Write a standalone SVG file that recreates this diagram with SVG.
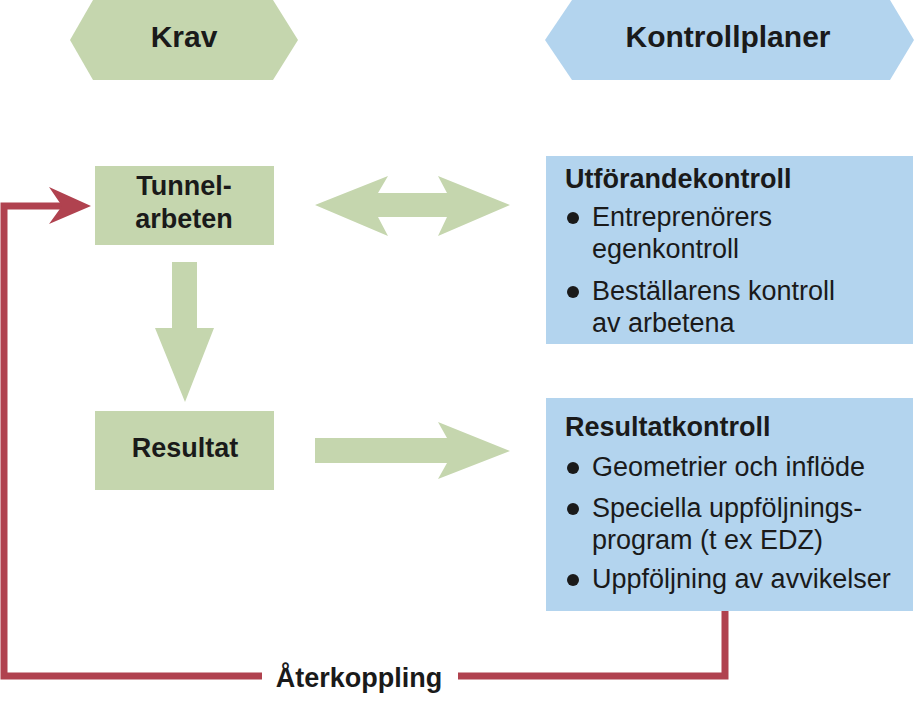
<svg xmlns="http://www.w3.org/2000/svg" width="914" height="702" viewBox="0 0 914 702">
<style>
.g{fill:#c5d6ae}
.b{fill:#b3d4ee}
.t{font-family:"Liberation Sans",Arial,sans-serif;fill:#1a1a1a}
.bold{font-weight:bold}
.h{font-size:30px}
.n{font-size:27px}
.r{font-size:27px}
.red{stroke:#b0424f;stroke-width:7;fill:none}
.dot{fill:#1a1a1a}
</style>
<rect width="914" height="702" fill="#ffffff"/>
<g id="krav">
<polygon class="g" points="70,40 93,0 273,0 298,40 273,80 93,80"/>
<text class="t bold h" x="184" y="47" text-anchor="middle">Krav</text>
</g>
<g id="kontrollplaner">
<polygon class="b" points="545,40 572,0 890,0 914,40 890,80 572,80"/>
<text class="t bold h" x="728" y="47" text-anchor="middle">Kontrollplaner</text>
</g>
<g id="tunnelarbeten">
<rect class="g" x="95" y="166" width="179" height="79"/>
<text class="t bold n" x="184" y="195" text-anchor="middle">Tunnel-</text>
<text class="t bold n" x="184" y="228" text-anchor="middle">arbeten</text>
</g>
<g id="resultat">
<rect class="g" x="95" y="411" width="179" height="79"/>
<text class="t bold n" x="185" y="457" text-anchor="middle">Resultat</text>
</g>
<g id="utforandekontroll">
<rect class="b" x="546" y="156" width="367" height="188"/>
<text class="t bold n" x="565" y="188">Utförandekontroll</text>
<circle class="dot" cx="573" cy="218" r="6"/>
<text class="t r" x="592" y="226">Entreprenörers</text>
<text class="t r" x="592" y="258">egenkontroll</text>
<circle class="dot" cx="573" cy="292" r="6"/>
<text class="t r" x="592" y="300">Beställarens kontroll</text>
<text class="t r" x="592" y="332">av arbetena</text>
</g>
<g id="resultatkontroll">
<rect class="b" x="546" y="398" width="367" height="213"/>
<text class="t bold n" x="565" y="436">Resultatkontroll</text>
<circle class="dot" cx="573" cy="468" r="6"/>
<text class="t r" x="592" y="476">Geometrier och inflöde</text>
<circle class="dot" cx="573" cy="509" r="6"/>
<text class="t r" x="592" y="517">Speciella uppföljnings-</text>
<text class="t r" x="592" y="549">program (t ex EDZ)</text>
<circle class="dot" cx="573" cy="580" r="6"/>
<text class="t r" x="592" y="588">Uppföljning av avvikelser</text>
</g>
<g id="connectors">
<polygon class="g" points="315,205 388,176 378,193 447,193 438,176 510,205 438,236 447,217 378,217 388,236"/>
<polygon class="g" points="172,262 197,262 197,328 214,328 185,402 155,328 172,328"/>
<polygon class="g" points="315,438 447,438 438,422 510,451 438,479 447,463 315,463"/>
<polyline class="red" points="725,611 725,676 458,676"/>
<polyline class="red" points="262,676 4,676 4,206 64,206"/>
<polygon fill="#b0424f" points="49,187 91,206 49,224 62,206"/>
<text class="t bold n" x="359" y="687" text-anchor="middle">Återkoppling</text>
</g>
</svg>
